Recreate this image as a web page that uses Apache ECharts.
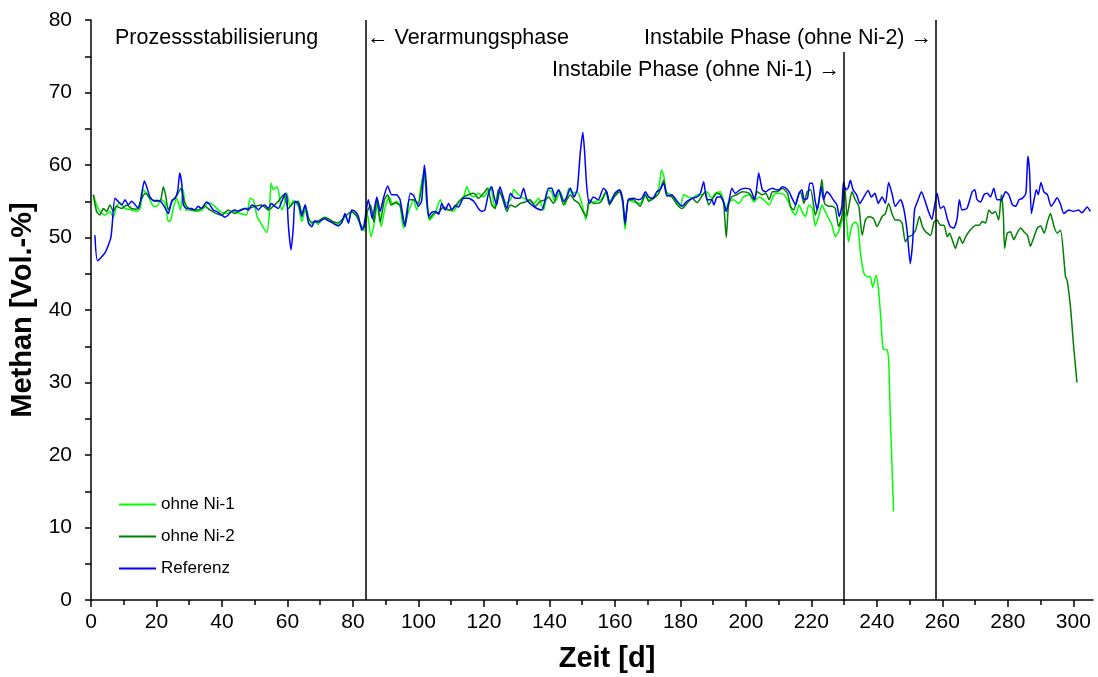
<!DOCTYPE html>
<html>
<head>
<meta charset="utf-8">
<script src="https://cdn.jsdelivr.net/npm/echarts@6/dist/echarts.min.js"></script>
<style>
html, body {margin: 0; padding: 0; background: #fff;}
#main {width: 1098px; height: 677px;}
</style>
</head>
<body>
<div id="main"></div>
<script>
/* jshint esversion:6 */
// Methan-Gehalt [Vol.-%] über Zeit [d]
const ohneNi1 = [[0.7,55.9],[1.7,54.5],[2.7,53.6],[4.3,53.1],[5.8,53.6],[6.8,52.8],[7.8,54.3],[8.8,54.8],[10.4,54.0],[12.4,53.8],[14,53.6],[15,54.0],[16,56.6],[17,56.1],[18.1,55.1],[19.1,54.3],[20.1,54.3],[21.4,55.2],[22.6,54.8],[23.6,52.2],[24.4,52.4],[25.1,54.0],[26.2,55.4],[27.3,53.8],[28.2,56.6],[28.9,53.8],[30.5,53.8],[32,53.6],[34,53.8],[35.8,54.8],[37.3,54.5],[39.4,53.6],[41.4,53.3],[43.4,53.6],[45.5,53.3],[47.5,53.1],[48.6,55.4],[49.6,55.2],[50.7,52.9],[51.7,52.1],[52.7,51.3],[53.7,50.7],[54.4,52.9],[55,57.5],[55.7,56.6],[56.7,57.0],[57.4,56.1],[58.2,53.8],[59,54.5],[59.8,56.1],[60.8,54.3],[61.8,55.1],[63.3,54.3],[64.4,52.2],[65.4,53.8],[66.9,51.8],[68.4,52.2],[69.4,51.8],[71,52.7],[73,52.4],[75,51.8],[76.5,52.0],[77.6,53.1],[78.6,52.0],[79.6,53.6],[81.1,52.9],[82.7,51.3],[83.5,50.9],[84.4,53.3],[85.5,50.1],[86.6,52.2],[87.6,55.0],[88.6,51.5],[89.9,54.3],[91.1,55.6],[92.2,54.5],[93.3,55.0],[94.4,54.4],[95.4,51.3],[97.2,53.9],[98.5,55.2],[99.5,53.8],[101,57.7],[101.8,59.3],[102.6,54.2],[103.4,52.4],[105,53.3],[106.7,55.2],[107.7,54.0],[109.2,53.8],[110.7,53.6],[112.2,54.7],[113.8,55.6],[114.8,57.0],[115.8,55.9],[116.9,55.6],[118.3,56.1],[119.9,55.6],[121,56.3],[122,57.0],[123.4,54.0],[124.9,56.3],[126.5,54.7],[128.1,55.2],[129.1,56.6],[130.6,55.9],[132.1,55.4],[133.6,55.2],[135.2,54.7],[136.7,55.4],[138.2,53.8],[139.7,56.6],[140.7,56.3],[141.7,54.9],[143.3,56.3],[144.8,54.5],[145.9,56.8],[146.9,56.1],[148.5,56.3],[150,54.5],[151.1,52.5],[152.1,54.7],[153.6,54.9],[155.7,55.2],[157.3,56.3],[158.3,54.9],[159.8,55.9],[161.4,56.6],[162.4,54.9],[163.1,51.1],[164.1,55.2],[165.7,54.9],[167.7,54.7],[169.3,55.9],[170.3,55.2],[171.8,55.4],[173.4,56.8],[174.2,59.3],[174.9,58.6],[175.6,56.3],[176.9,55.9],[178.4,55.2],[180,54.3],[181,55.9],[182.3,55.6],[183.6,55.4],[185.1,55.9],[186.6,55.9],[188.1,56.3],[189.6,55.4],[190.6,56.1],[192.2,56.3],[193.2,54.9],[194,53.8],[194.7,54.9],[196.2,55.2],[197.8,54.7],[199.3,55.6],[201,55.9],[202.5,54.9],[204,55.6],[205.5,55.2],[207.1,54.5],[208.6,55.9],[210.1,56.1],[211.7,55.9],[213.2,54.7],[214.1,53.6],[215.2,53.1],[216.2,54.5],[217.4,53.3],[218.2,52.9],[219.2,54.5],[220.3,54.0],[221.2,51.6],[222.2,52.9],[223.2,54.5],[224.2,53.6],[225.3,52.6],[226.3,51.7],[227.3,50.1],[228.3,50.8],[229.3,52.2],[230.2,53.5],[230.9,51.7],[231.3,49.4],[232.4,51.7],[233.4,52.1],[234.2,51.7],[235,47.8],[236,45.1],[237,44.6],[238,44.6],[238.7,43.1],[239.8,44.8],[240.5,42.8],[241.3,38.2],[241.9,34.6],[243.1,34.5],[243.6,33.1],[244.1,25.3],[245.1,12.2]];

const ohneNi2 = [[0.7,55.9],[1.7,53.6],[2.7,53.1],[3.8,54.0],[4.8,53.6],[5.8,54.5],[6.8,53.6],[7.8,54.3],[9.4,54.0],[10.9,54.5],[12.4,54.0],[14,53.9],[15.5,55.4],[16.6,56.1],[18.1,55.4],[19.6,55.0],[21.2,55.1],[22.1,57.0],[22.8,55.8],[23.6,53.8],[24.9,55.1],[26.2,55.8],[27.5,56.8],[28.2,55.5],[29.2,54.3],[30.7,53.8],[32.7,53.8],[34.8,54.3],[36.3,53.8],[38.3,53.3],[39.9,53.1],[41.9,53.8],[43.9,53.3],[45.5,53.8],[47,54.0],[48.1,54.0],[50.1,54.3],[52.1,54.5],[54.1,53.8],[55.6,54.3],[57.2,55.0],[58.8,55.9],[60.3,54.0],[61.8,54.8],[63.3,55.0],[64.4,53.3],[65.4,54.5],[66.4,52.8],[67.4,52.1],[69.4,52.3],[71.4,52.8],[73.5,52.3],[75.5,52.0],[77.6,52.9],[79.6,53.6],[81.1,53.0],[82.7,51.5],[83.3,51.3],[84.4,53.6],[85.4,54.5],[86.4,52.1],[87.3,55.4],[88.3,52.1],[89.6,55.2],[90.6,55.9],[91.6,54.5],[92.9,54.8],[94.4,54.4],[95.7,51.7],[97.2,55.2],[98.5,55.2],[100,54.7],[101,57.2],[101.8,58.9],[102.6,54.7],[103.4,52.6],[104.6,53.3],[106.2,53.5],[107.7,54.2],[109.2,53.8],[110.7,54.0],[112.2,54.9],[113.8,55.6],[115.3,55.9],[116.9,56.1],[118.3,55.4],[119.9,56.1],[121.1,56.8],[122.4,54.5],[123.4,54.0],[124.4,56.6],[125.5,55.6],[127,53.6],[128.1,54.5],[129.6,54.2],[131.1,54.7],[132.6,54.9],[134.1,55.2],[135.7,54.3],[137.2,55.0],[138.7,55.2],[139.7,55.6],[141.2,54.7],[142.8,56.6],[144.3,54.5],[145.3,55.2],[146.4,55.9],[147.5,55.2],[149,54.7],[150,53.8],[151.3,52.9],[152.1,55.2],[153.6,54.7],[155.7,54.9],[157.3,56.3],[158.3,54.5],[159.8,55.6],[161.4,56.3],[162.4,54.7],[163.1,51.7],[164.1,55.2],[165.7,55.2],[167.7,54.3],[169.3,55.9],[170.3,55.0],[171.8,55.4],[173.4,56.1],[174.9,57.9],[175.9,55.9],[177.4,55.6],[179,54.5],[180.5,54.0],[182,54.7],[183.6,55.4],[185.1,54.8],[186.1,55.4],[187.6,56.3],[188.6,54.5],[190.2,55.6],[191.2,56.1],[192.2,55.9],[193.2,54.7],[194,50.0],[194.7,54.5],[195.7,55.6],[197.2,55.9],[198.9,56.3],[201,56.1],[202.5,55.2],[203.4,56.3],[205,55.9],[206.1,56.1],[207.1,55.2],[208.1,56.3],[209.6,56.3],[211.1,56.8],[212.7,56.1],[213.6,54.3],[214.6,53.8],[215.7,55.4],[216.7,56.3],[217.7,54.7],[218.7,56.3],[219.8,56.6],[221.2,53.1],[222.2,54.7],[223.2,58.0],[224,54.7],[225.3,54.3],[226.3,54.3],[227.3,54.0],[228.3,51.5],[229.3,52.9],[230.2,57.0],[230.9,52.9],[231.6,54.7],[232.4,56.3],[233.4,55.2],[234.5,54.3],[235.5,50.3],[236.5,52.4],[237.5,52.9],[239,52.6],[240,51.5],[241.6,52.9],[242.6,53.3],[243.6,54.7],[244.6,53.3],[245.6,52.4],[246.7,52.4],[247.7,52.0],[248.7,49.4],[249.7,50.1],[250.7,50.3],[251.8,51.0],[253,52.9],[253.9,51.5],[254.9,50.8],[256.4,50.3],[257.5,52.2],[258.4,52.4],[259.4,51.7],[260.5,51.7],[261.5,50.1],[262.2,50.6],[263,49.7],[264,48.5],[265.2,50.1],[266.2,49.2],[267.1,50.1],[268.1,50.8],[269.1,51.3],[270.1,51.7],[271.2,51.7],[272.2,52.2],[273.2,52.0],[274.2,53.8],[275.2,53.3],[276.2,53.6],[277.2,52.4],[278,55.9],[278.6,53.3],[279,48.5],[279.8,50.6],[280.8,50.8],[281.8,49.7],[282.8,50.6],[283.9,51.3],[284.9,50.8],[286,50.3],[286.9,48.8],[288,50.1],[289,51.3],[290,51.6],[291.1,50.6],[292.1,52.2],[293,53.3],[294.1,51.5],[295.1,50.6],[296.1,51.0],[297.6,44.6],[298.1,44.1],[299.1,40.5],[300.1,34.9],[301.1,30.0]];

const referenz = [[1.2,50.3],[2,46.8],[4.3,47.9],[6.1,50.1],[7.3,55.4],[8.3,55.0],[9.4,54.5],[10.4,55.2],[11.4,54.5],[12.4,55.0],[14.5,54.0],[15.5,56.1],[16.3,57.8],[17,57.0],[18,55.6],[19,55.1],[20.6,55.1],[21.6,54.8],[22.6,54.1],[23.6,53.3],[24.7,55.1],[25.7,55.4],[26.5,56.5],[27.1,58.9],[27.7,57.5],[28.2,54.5],[29.2,54.0],[30.7,54.0],[31.7,53.8],[32.7,54.3],[33.7,54.0],[35.3,54.9],[36.3,54.5],[37.3,53.8],[38.3,53.6],[39.9,53.1],[40.9,52.8],[41.9,53.1],[42.9,53.6],[43.9,53.8],[45,53.6],[46,53.8],[47,54.0],[48.1,53.8],[49.1,54.5],[50.1,54.3],[51.1,53.8],[52.1,54.3],[53.1,54.5],[54.1,54.0],[55.1,54.7],[56.2,54.3],[57.2,54.0],[58.3,55.0],[59.3,56.1],[59.8,55.6],[60.3,51.5],[61.1,48.3],[61.8,51.5],[62.3,55.0],[63.3,54.7],[64.4,52.9],[65.4,54.5],[66.4,52.0],[67.4,51.5],[68.4,52.3],[69.4,52.1],[70.4,52.4],[71.4,52.6],[72.5,52.3],[73.5,52.1],[74.5,51.8],[75.5,51.6],[76.5,52.0],[77.6,53.3],[78.6,52.0],[79.6,53.8],[80.6,53.6],[81.6,53.0],[82.7,51.0],[83.3,51.5],[84.7,55.2],[85.9,52.6],[87.3,55.6],[88.3,53.6],[89.3,55.4],[90.6,57.1],[91.8,55.9],[93.3,55.9],[94.4,55.2],[95.9,51.5],[97.5,56.1],[98.5,55.8],[100,54.3],[101,55.1],[101.8,60.0],[102.3,58.0],[103.1,52.9],[104.1,53.5],[105.2,53.6],[106.2,53.2],[107.1,54.7],[108.2,53.8],[109.2,54.7],[110.2,53.8],[111.2,54.4],[112.2,54.2],[113.8,55.4],[115.3,55.4],[116.9,55.0],[118.3,54.0],[119.3,53.6],[120.3,53.8],[121.4,56.1],[122.4,57.0],[123.1,55.6],[123.9,54.5],[124.9,57.0],[126,55.4],[127,54.0],[128.1,56.1],[129,55.6],[129.9,55.4],[131,55.4],[132.1,56.8],[133.1,55.2],[134.6,54.5],[136.2,54.0],[137.7,53.8],[139.7,56.8],[140.7,56.8],[141.7,55.6],[142.8,56.6],[144.3,55.0],[145.3,55.6],[146.4,56.8],[147.5,55.6],[148.5,56.6],[149.4,61.6],[150.2,64.5],[150.7,62.1],[151.4,57.0],[152.2,54.7],[153.4,55.6],[154.9,55.2],[156.5,56.8],[157.5,56.3],[158.5,54.7],[160,56.1],[161.4,56.6],[162.4,55.2],[163.1,52.0],[164.1,55.2],[165.7,55.4],[167.2,55.2],[168.2,55.4],[169.3,56.3],[170.3,55.6],[171.5,55.4],[172.8,56.3],[173.8,56.6],[174.9,57.5],[175.9,55.7],[177.4,55.9],[179,55.0],[180.5,54.3],[182,55.0],[183.6,55.4],[185.1,55.6],[186.1,56.1],[187.1,57.7],[188.1,55.2],[189.6,55.2],[190.2,54.5],[191.2,55.6],[192.2,55.6],[193.2,54.9],[194,53.6],[194.7,54.7],[195.7,56.8],[196.7,56.1],[198.3,56.6],[199.8,56.8],[201.4,56.6],[202.7,55.2],[203.4,57.2],[203.9,58.9],[205,56.6],[206,56.3],[207,56.6],[208.1,56.8],[209.1,56.6],[210.1,56.6],[211.1,57.0],[212.2,56.8],[213.2,56.3],[214.1,55.4],[215.2,54.5],[216.2,56.1],[217.1,56.6],[217.8,55.2],[218.8,55.4],[219.5,57.5],[220.3,57.5],[221.1,55.2],[221.8,53.8],[222.5,55.6],[223,57.0],[223.7,55.2],[224.7,56.3],[225.7,55.9],[226.7,55.2],[227.8,54.5],[228.5,52.9],[229.3,54.3],[229.8,57.7],[230.5,56.6],[231.2,56.8],[231.9,57.9],[232.7,56.6],[233.8,55.9],[234.8,54.7],[235.8,55.4],[237.3,56.5],[238.3,55.6],[239.4,56.1],[240.4,54.7],[241.6,55.6],[242.6,54.7],[243.6,57.6],[244.6,56.1],[245.6,54.3],[247.2,55.2],[248.2,54.0],[249.2,51.0],[250.2,46.4],[250.9,49.2],[251.5,53.8],[252.6,55.2],[253.6,56.3],[254.6,55.2],[255.9,53.4],[256.8,52.5],[257.6,54.3],[258.4,56.1],[259.4,54.0],[260.4,54.3],[261.5,52.6],[262.4,51.5],[263.5,51.3],[264.5,52.6],[265.2,55.2],[266,53.8],[267.5,54.0],[269.1,56.3],[269.9,56.6],[270.6,55.2],[271.7,54.9],[272.7,55.9],[273.7,56.1],[274.7,55.6],[275.7,56.8],[276.7,55.2],[278,55.2],[279.3,56.3],[280.3,55.9],[281.4,54.5],[282.4,54.3],[283.4,55.2],[284.4,55.4],[285.5,56.1],[286.1,61.2],[286.6,59.3],[287.2,53.3],[288,55.2],[288.7,56.6],[289.3,55.9],[290.1,57.6],[291,56.3],[292.1,55.9],[293.2,54.3],[294.2,54.9],[295,55.5],[296,54.7],[297.1,53.3],[298.6,53.8],[300,53.6],[301.6,53.8],[302.6,53.4],[303.6,53.9],[304.2,54.2],[305.2,53.6]];

// Phasengrenzen [d] und obere Enden der Linien
const phaseDays = [84, 230, 258];
const phaseTops = [80, 75.6, 80];
const xMajor = [0, 20, 40, 60, 80, 100, 120, 140, 160, 180, 200, 220, 240, 260, 280, 300];
const xMinor = [10, 30, 50, 70, 90, 110, 130, 150, 170, 190, 210, 230, 250, 270, 290];

const FONT = 'Arial, "Liberation Sans", sans-serif';

function lineSeries(name, data, color){
    return {
        name: name,
        type: 'line',
        data: data,
        symbol: 'none',
        smooth: 0.2,
        lineStyle: {color: color, width: 1.5},
        itemStyle: {color: color},
        animation: false
    };
}

let phaseLines = [];
for (let i = 0; i < phaseDays.length; i++){
    phaseLines.push([{coord: [phaseDays[i], 0]}, {coord: [phaseDays[i], phaseTops[i]]}]);
}

let option = {
    backgroundColor: '#fff',
    textStyle: {fontFamily: FONT},
    grid: {left: 91, right: 5, top: 20, bottom: 77, outerBoundsMode: 'none'},
    legend: {
        data: ['ohne Ni-1', 'ohne Ni-2', 'Referenz'],
        orient: 'vertical',
        left: 119,
        top: 496,
        padding: 0,
        icon: 'rect',
        itemWidth: 37,
        itemHeight: 2,
        itemGap: 15,
        textStyle: {fontSize: 17, color: '#000', fontFamily: FONT}
    },
    xAxis: [{
        type: 'value',
        min: 0,
        max: 306,
        name: 'Zeit [d]',
        nameLocation: 'middle',
        nameGap: 44,
        nameTextStyle: {fontSize: 29, fontWeight: 'bold', color: '#000', fontFamily: FONT, padding: [0, 0, 0, 30]},
        axisLine: {lineStyle: {color: '#000', width: 1.5}},
        axisTick: {customValues: xMajor, length: 7, lineStyle: {color: '#000', width: 1.5}},
        axisLabel: {customValues: xMajor, fontSize: 21, color: '#000', margin: 12, fontFamily: FONT},
        splitLine: {show: false}
    }, {
        type: 'value',
        min: 0,
        max: 306,
        position: 'bottom',
        axisLine: {show: false},
        axisTick: {customValues: xMinor, length: 5, lineStyle: {color: '#000', width: 1.5}},
        axisLabel: {show: false},
        splitLine: {show: false}
    }],
    yAxis: {
        type: 'value',
        min: 0,
        max: 80,
        interval: 10,
        name: 'Methan [Vol.-%]',
        nameLocation: 'middle',
        nameGap: 47,
        nameTextStyle: {fontSize: 29, fontWeight: 'bold', color: '#000', fontFamily: FONT},
        axisLine: {show: true, lineStyle: {color: '#000', width: 1.5}},
        axisTick: {show: true, length: 6, lineStyle: {color: '#000', width: 1.5}},
        minorTick: {show: true, splitNumber: 2, length: 6, lineStyle: {color: '#000', width: 1.5}},
        axisLabel: {fontSize: 21, color: '#000', margin: 19, fontFamily: FONT},
        splitLine: {show: false}
    },
    graphic: [
        {type: 'text', x: 115, y: 38, style: {text: 'Prozessstabilisierung', font: '21.5px ' + FONT, fill: '#000', align: 'left', verticalAlign: 'middle'}},
        {type: 'text', x: 367, y: 38, style: {text: '\u2190 Verarmungsphase', font: '21.5px ' + FONT, fill: '#000', align: 'left', verticalAlign: 'middle'}},
        {type: 'text', x: 932, y: 38, style: {text: 'Instabile Phase (ohne Ni-2) \u2192', font: '21.5px ' + FONT, fill: '#000', align: 'right', verticalAlign: 'middle'}},
        {type: 'text', x: 840, y: 70, style: {text: 'Instabile Phase (ohne Ni-1) \u2192', font: '21.5px ' + FONT, fill: '#000', align: 'right', verticalAlign: 'middle'}}
    ],
    series: [
        {
            name: 'Phasen',
            type: 'line',
            data: [],
            markLine: {
                silent: true,
                symbol: ['none', 'none'],
                label: {show: false},
                lineStyle: {color: '#000', width: 1.5, type: 'solid'},
                data: phaseLines,
                animation: false
            }
        },
        lineSeries('ohne Ni-1', ohneNi1, '#00ff00'),
        lineSeries('ohne Ni-2', ohneNi2, '#008000'),
        lineSeries('Referenz', referenz, '#0000ff')
    ]
};

let chart = echarts.init(document.getElementById('main'));
chart.setOption(option);
</script>
</body>
</html>
